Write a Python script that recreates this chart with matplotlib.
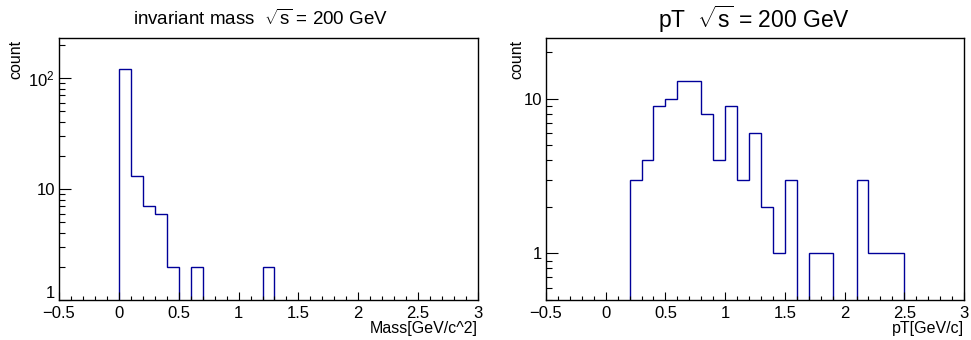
import matplotlib
matplotlib.use("Agg")
import matplotlib.pyplot as plt
import matplotlib.transforms as mtransforms
import numpy as np
from matplotlib.ticker import MultipleLocator, FixedLocator, FixedFormatter, LogLocator, NullFormatter

plt.rcParams['font.family'] = ['Liberation Sans', 'DejaVu Sans']
plt.rcParams['mathtext.fontset'] = 'custom'
plt.rcParams['mathtext.rm'] = 'Liberation Sans'
plt.rcParams['mathtext.it'] = 'Liberation Sans'

# bin edges -0.5 .. 3.0, width 0.1
edges = np.round(np.arange(-0.5, 3.0001, 0.1), 2)

mass_counts = [0, 0, 0, 0, 0, 120, 13, 7, 6, 2, 0, 2, 0, 0, 0, 0, 0, 2,
               0, 0, 0, 0, 0, 0, 0, 0, 0, 0, 0, 0, 0, 0, 0, 0, 0]
pt_counts = [0, 0, 0, 0, 0, 0, 0, 3, 4, 9, 10, 13, 13, 8, 4, 9, 3, 6,
             2, 1, 3, 0, 1, 1, 0, 0, 3, 1, 1, 1, 0, 0, 0, 0, 0]

line_color = '#000099'

fig = plt.figure(figsize=(9.71, 3.40), dpi=100)
ax1 = fig.add_axes([59 / 971, 40 / 340, 419 / 971, 262 / 340])
ax2 = fig.add_axes([546 / 971, 40 / 340, 418 / 971, 262 / 340])


def style(ax, ymin, ymax, yticks, ylabels, xlabel, label_x):
    ax.set_yscale('log')
    ax.set_xlim(-0.5, 3.0)
    ax.set_ylim(ymin, ymax)
    ax.set_xticks([-0.5, 0, 0.5, 1, 1.5, 2, 2.5, 3])
    ax.set_xticklabels(['\u22120.5', '0', '0.5', '1', '1.5', '2', '2.5', '3'])
    ax.xaxis.set_minor_locator(MultipleLocator(0.1))
    ax.yaxis.set_major_locator(FixedLocator(yticks))
    ax.yaxis.set_major_formatter(FixedFormatter(ylabels))
    ax.yaxis.set_minor_locator(LogLocator(base=10, subs=np.arange(2, 10)))
    ax.yaxis.set_minor_formatter(NullFormatter())
    ax.tick_params(axis='both', which='both', direction='in', top=False, right=False,
                   labelsize=12, width=0.8, color='black')
    ax.tick_params(axis='x', which='major', length=5.5, pad=4)
    ax.tick_params(axis='x', which='minor', length=2.8)
    ax.tick_params(axis='y', which='major', length=8.6, pad=3)
    ax.tick_params(axis='y', which='minor', length=4.5)
    for s in ax.spines.values():
        s.set_linewidth(1.0)
    ax.text(1.0, -28 / 262, xlabel, transform=ax.transAxes, ha='right', va='center', fontsize=11.5)
    fig.text(label_x / 971, 1 - 40 / 340, 'count', rotation=90, ha='center', va='top', fontsize=11.5)


ax1.stairs(mass_counts, edges, color=line_color, linewidth=1.0)
style(ax1, 1, 229, [1, 10, 100], ['1', '10', '$10^{2}$'], 'Mass[GeV/c^2]', 16)

ax2.stairs(pt_counts, edges, color=line_color, linewidth=1.0)
style(ax2, 0.5, 24.8, [1, 10], ['1', '10'], 'pT[GeV/c]', 517)

# lift the "1" label on the left panel so it clears the "-0.5" label
lab = ax1.get_yticklabels()[0]
lab.set_transform(lab.get_transform() + mtransforms.ScaledTranslation(0, 6 / 72, fig.dpi_scale_trans))

fig.text(261 / 971, 1 - 19 / 340, r'invariant mass  $\sqrt{s}$ = 200 GeV', ha='center', va='center', fontsize=13.5)
fig.text(754 / 971, 1 - 19 / 340, r'pT  $\sqrt{s}$ = 200 GeV', ha='center', va='center', fontsize=16.5)

fig.savefig('out.png', dpi=100)
